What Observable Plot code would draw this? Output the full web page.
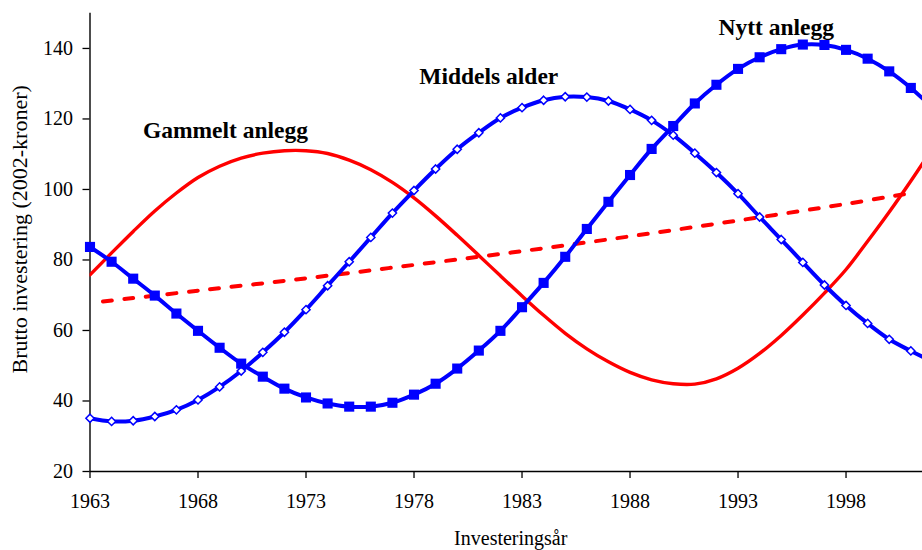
<!DOCTYPE html>
<html>
<head>
<meta charset="utf-8">
<script src="https://cdn.jsdelivr.net/npm/d3@7"></script>
<script src="https://cdn.jsdelivr.net/npm/@observablehq/plot@0.6"></script>
<style>
  html, body { margin: 0; padding: 0; background: #fff; }
  #chart svg { font-family: "Liberation Serif", "Times New Roman", serif; }
</style>
</head>
<body>
<div id="chart"></div>
<script>
// ---- data ----
const years = [1963,1964,1965,1966,1967,1968,1969,1970,1971,1972,
               1973,1974,1975,1976,1977,1978,1979,1980,1981,1982,
               1983,1984,1985,1986,1987,1988,1989,1990,1991,1992,
               1993,1994,1995,1996,1997,1998,1999,2000,2001,2002];

// "Nytt anlegg" – filled squares
const nyttAnlegg = [83.7,79.5,74.7,69.9,64.8,59.9,55.1,50.6,46.9,43.5,
                    41.0,39.3,38.4,38.4,39.5,41.8,44.9,49.2,54.3,59.9,
                    66.6,73.5,80.9,88.8,96.5,104.1,111.5,118.0,124.4,129.7,
                    134.2,137.5,139.8,141.1,141.0,139.6,137.1,133.5,128.8,123.2];

// "Middels alder" – open diamonds
const middelsAlder = [35.1,34.2,34.4,35.6,37.5,40.3,44.0,48.5,53.8,59.5,
                      65.9,72.7,79.5,86.4,93.3,99.7,105.8,111.4,116.1,120.3,
                      123.2,125.3,126.3,126.2,125.1,122.7,119.6,115.4,110.3,104.8,
                      98.8,92.2,85.8,79.3,72.9,67.1,62.0,57.5,54.2,51.2];

// "Gammelt anlegg" – solid red
const gammeltAnlegg = [75.8,82.0,88.1,93.9,99.0,103.4,106.6,108.9,110.3,111.0,
                       111.0,110.2,108.3,105.6,102.0,97.6,92.5,87.0,81.3,75.5,
                       69.8,64.3,59.2,54.8,51.1,48.1,46.0,44.9,44.8,46.3,
                       49.3,53.5,58.6,64.4,70.6,77.3,85.3,93.6,102.4,111.6];

// dashed red trend line
const trendYears = [1963.6,1968,1973,1978,1983,1988,1993,1998,2001];
const trendVals  = [68.2,71.3,74.8,78.6,82.5,86.7,91.2,95.9,99.0];

// series labels
const labelTexts = ["Gammelt anlegg","Middels alder","Nytt anlegg"];
const labelYears = [1969.27,1981.46,1994.77];
const labelVals  = [114.5,129.8,143.7];

const xTicks = [1963,1968,1973,1978,1983,1988,1993,1998];
const yTicks = [20,40,60,80,100,120,140];
const xDomain = [1963,2001.54];
const yDomain = [20,150];

const xTitle = "Investeringsår";
const yTitle = "Brutto investering (2002-kroner)";

// ---- tables ----
const rows = years.map((yr,i) => ({year: yr, nytt: nyttAnlegg[i], middels: middelsAlder[i], gammelt: gammeltAnlegg[i]}));
const dotRows = rows.filter(d => d.year <= 2001);
const trend = trendYears.map((yr,i) => ({year: yr, v: trendVals[i]}));
const labels = labelTexts.map((t,i) => ({t, year: labelYears[i], v: labelVals[i]}));

const blue = "#0000ff";
const red = "#ff0000";

const chart = Plot.plot({
  width: 922,
  height: 550,
  marginLeft: 89.5,
  marginRight: 0,
  marginTop: 12.7,
  marginBottom: 79,
  style: {background: "#fff", color: "#000", fontFamily: "'Liberation Serif', 'Times New Roman', serif"},
  x: {domain: xDomain, label: null},
  y: {domain: yDomain, label: null},
  marks: [
    Plot.axisX({ticks: xTicks, tickFormat: d => String(d), tickSize: 7, tickPadding: 15, fontSize: 20, strokeWidth: 1.3, label: null}),
    Plot.axisY({ticks: yTicks, tickSize: 7, tickPadding: 10, fontSize: 20, strokeWidth: 1.3, label: null}),
    Plot.ruleY([yDomain[0]], {stroke: "#000", strokeWidth: 1.4}),
    Plot.ruleX([xDomain[0]], {stroke: "#000", strokeWidth: 1.4}),
    Plot.line(rows, {x: "year", y: "gammelt", stroke: red, strokeWidth: 3.4, curve: "catmull-rom", clip: "frame"}),
    Plot.line(trend, {x: "year", y: "v", stroke: red, strokeWidth: 4, strokeDasharray: "9,12.6", curve: "catmull-rom", clip: "frame"}),
    Plot.line(rows, {x: "year", y: "middels", stroke: blue, strokeWidth: 4, curve: "catmull-rom", clip: "frame"}),
    Plot.line(rows, {x: "year", y: "nytt", stroke: blue, strokeWidth: 4, curve: "catmull-rom", clip: "frame"}),
    Plot.dot(dotRows, {x: "year", y: "middels", symbol: "diamond2", r: 3.7, fill: "#fff", stroke: blue, strokeWidth: 1.5}),
    Plot.dot(dotRows, {x: "year", y: "nytt", symbol: "square", r: 5.7, fill: blue, stroke: "none"}),
    Plot.text(labels, {x: "year", y: "v", text: "t", fontSize: 23.5, fontWeight: "bold", fill: "#000", textAnchor: "middle", lineAnchor: "bottom"}),
    Plot.text([xTitle], {frameAnchor: "bottom", textAnchor: "middle", dx: 4.5, dy: 73.5, lineAnchor: "bottom", fontSize: 20, fill: "#000"}),
    Plot.text([yTitle], {frameAnchor: "left", textAnchor: "middle", dx: -63, dy: -13, rotate: -90, lineAnchor: "bottom", fontSize: 22, fill: "#000"})
  ]
});
document.getElementById("chart").appendChild(chart);
</script>
</body>
</html>
